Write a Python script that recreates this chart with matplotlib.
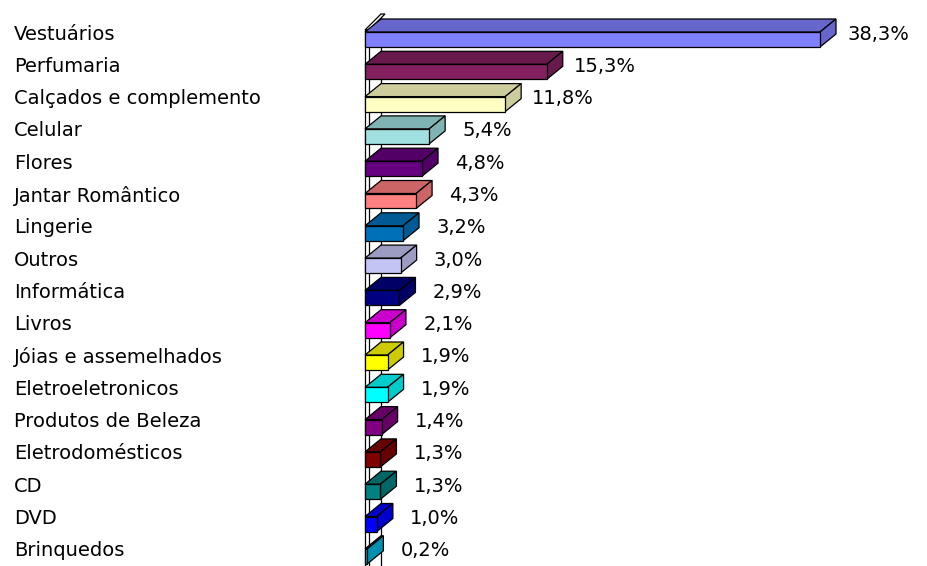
import matplotlib
matplotlib.use("Agg")
import matplotlib.pyplot as plt
from matplotlib.patches import Polygon

categories = ["Vestuários", "Perfumaria", "Calçados e complemento", "Celular", "Flores",
              "Jantar Romântico", "Lingerie", "Outros", "Informática", "Livros",
              "Jóias e assemelhados", "Eletroeletronicos", "Produtos de Beleza",
              "Eletrodomésticos", "CD", "DVD", "Brinquedos"]
values = [38.3, 15.3, 11.8, 5.4, 4.8, 4.3, 3.2, 3.0, 2.9, 2.1, 1.9, 1.9, 1.4, 1.3, 1.3, 1.0, 0.2]
front_colors = ["#8080FF", "#822060", "#FFFFC4", "#A0E0E0", "#660080", "#FF8080", "#0070B8",
                "#C4C4F4", "#000080", "#FF00FF", "#FFFF00", "#00FFFF", "#800080", "#800000",
                "#008080", "#0000FF", "#00A8D0"]
shade_colors = ["#6666CC", "#681A4D", "#CCCC9C", "#80B3B3", "#520066", "#CC6666", "#005A93",
                "#9C9CC3", "#000066", "#CC00CC", "#CCCC00", "#00CCCC", "#660066", "#660000",
                "#006666", "#0000CC", "#0090B0"]

W, H = 928, 566
k = 11.88        # px per percent
row = 32.3       # px per category
y0 = 39.5        # px of first front-face centre

fig = plt.figure(figsize=(W / 100, H / 100), dpi=100)
ax = fig.add_axes([0, 0, 1, 1])
ax.set_xlim(-365 / k, (W - 365) / k)
ax.set_ylim((H - y0) / row, -y0 / row)
ax.axis("off")

lw = 0.9
dx = 16 / k
dy = 13 / row
hh = 15 / row / 2

# wall
wdx = 16 / k
wdy = 16 / row
wt = (30 - y0) / row
th = 4 / k
ybot = (H + 20 - y0) / row
ax.plot([wdx, wdx], [wt - wdy, ybot], color="black", lw=lw, zorder=1)
ax.add_patch(Polygon([(0, wt), (th, wt), (th + wdx, wt - wdy), (wdx, wt - wdy)],
                     closed=True, facecolor="white", edgecolor="black", lw=lw, zorder=1))
ax.add_patch(Polygon([(0, wt), (th, wt), (th, ybot), (0, ybot)],
                     closed=True, facecolor="white", edgecolor="black", lw=lw, zorder=1))

for i, (cat, v, fc, sc) in enumerate(zip(categories, values, front_colors, shade_colors)):
    yt, yb = i - hh, i + hh
    top = [(0, yt), (v, yt), (v + dx, yt - dy), (dx, yt - dy)]
    side = [(v, yt), (v + dx, yt - dy), (v + dx, yb - dy), (v, yb)]
    front = [(0, yt), (v, yt), (v, yb), (0, yb)]
    for pts, c in ((top, sc), (side, sc), (front, fc)):
        ax.add_patch(Polygon(pts, closed=True, facecolor=c, edgecolor="black",
                             lw=lw, joinstyle="miter", zorder=3))
    ty = i - 5.5 / row
    ax.text(-351 / k, ty, cat, ha="left", va="center", fontsize=14,
            family="DejaVu Sans", color="black", zorder=4)
    lab = f"{v:.1f}".replace(".", ",") + "%"
    ax.text(v + dx + 42 / k, ty, lab, ha="center", va="center", fontsize=14,
            family="DejaVu Sans", color="black", zorder=4)

fig.savefig("out.png", dpi=100)
